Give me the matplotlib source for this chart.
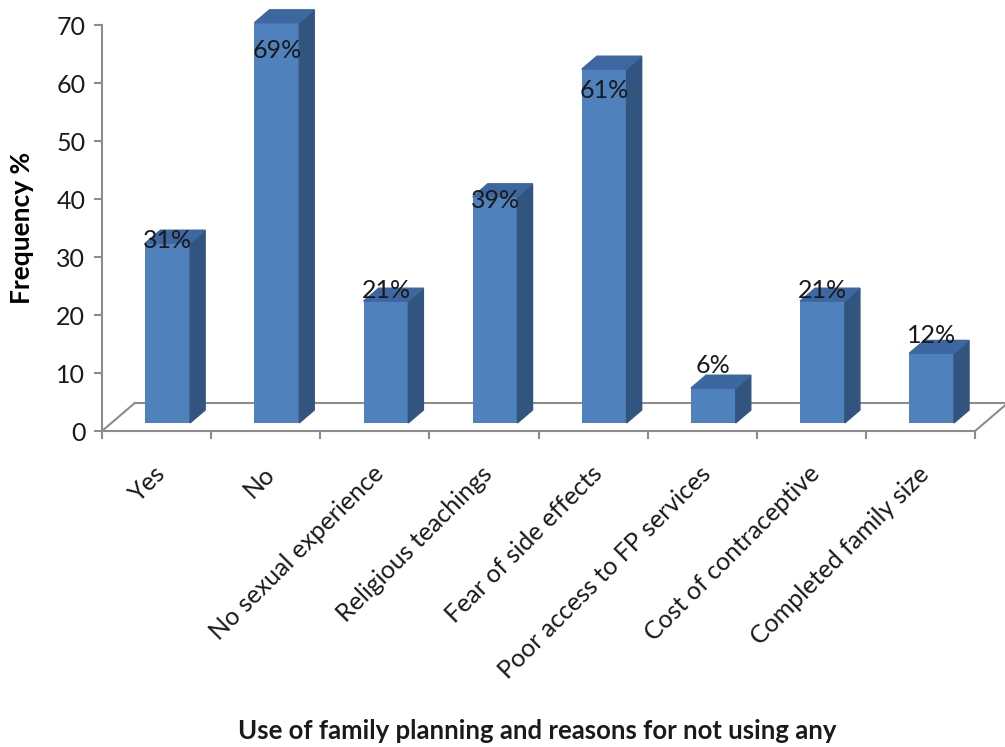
import matplotlib
matplotlib.use("Agg")
import matplotlib.pyplot as plt
from matplotlib.patches import Polygon
from matplotlib.transforms import ScaledTranslation
import numpy as np

plt.rcParams['font.family'] = ['Lato', 'DejaVu Sans']

categories = ["Yes", "No", "No sexual experience", "Religious teachings",
              "Fear of side effects", "Poor access to FP services",
              "Cost of contraceptive", "Completed family size"]
values = [31, 69, 21, 39, 61, 6, 21, 12]
value_labels = ["31%", "69%", "21%", "39%", "61%", "6%", "21%", "12%"]

# 3d look: floor depth in data units and where the bars sit inside it
DX, DY = 0.30, 4.83
F0, F1 = 0.29, 0.75
BAR_X0, BAR_W = 0.31, 0.41

FRONT = '#4F81BD'
TOP = '#3C67A0'
SIDE = '#32557F'
GRID = '#8C8C8C'
TXT = '#1a1a1a'

fig = plt.figure(figsize=(10.05, 7.47), dpi=100)
ax = fig.add_axes([0.1015, 0.423, 0.8687, 0.5435])
n = len(categories)
ax.set_xlim(0, n)
ax.set_ylim(0, 70)

for s in ['top', 'right', 'bottom']:
    ax.spines[s].set_visible(False)
ax.spines['left'].set_color(GRID)
ax.spines['left'].set_linewidth(1.5)

# floor
ax.plot([0, n], [0, 0], color=GRID, lw=1.5, clip_on=False, zorder=1)
ax.plot([DX, n + DX], [DY, DY], color=GRID, lw=1.5, clip_on=False, zorder=1)
ax.plot([0, DX], [0, DY], color=GRID, lw=1.5, clip_on=False, zorder=1)
ax.plot([n, n + DX], [0, DY], color=GRID, lw=1.5, clip_on=False, zorder=1)

# bars
x_front = np.arange(n) + BAR_X0 + F0 * DX
y_base = F0 * DY
ddx, ddy = (F1 - F0) * DX, (F1 - F0) * DY
ax.bar(x_front, values, width=BAR_W, bottom=y_base, align='edge',
       color=FRONT, zorder=3, clip_on=False)
for x0, v in zip(x_front, values):
    x1 = x0 + BAR_W
    top = y_base + v
    ax.add_patch(Polygon([(x1, y_base), (x1 + ddx, y_base + ddy),
                          (x1 + ddx, top + ddy), (x1, top)],
                         closed=True, color=SIDE, zorder=3, clip_on=False))
    ax.add_patch(Polygon([(x0, top), (x1, top), (x1 + ddx, top + ddy),
                          (x0 + ddx, top + ddy)],
                         closed=True, color=TOP, zorder=3, clip_on=False))

# data labels
for x0, v, lab in zip(x_front, values, value_labels):
    ax.text(x0 + BAR_W / 2, 6.2 + 0.862 * v, lab, ha='center', va='center',
            fontsize=18, color=TXT, zorder=5)

# ticks
ax.set_yticks(np.arange(0, 71, 10))
ax.tick_params(axis='y', direction='out', length=6, width=1.5, color=GRID,
               labelsize=18, labelcolor=TXT, pad=6)
ax.set_xticks(np.arange(n + 1))
ax.set_xticklabels([])
ax.tick_params(axis='x', direction='out', length=6, width=1.5, color=GRID)

# category labels, rotated
off = ScaledTranslation(5 / 100, -39 / 100, fig.dpi_scale_trans)
for i, c in enumerate(categories):
    ax.text(i + 0.5, 0, c, rotation=45, rotation_mode='anchor',
            ha='right', va='center', fontsize=18, color=TXT,
            transform=ax.get_xaxis_transform() + off)

ax.set_ylabel("Frequency %", fontsize=19, fontweight='bold')
ax.yaxis.set_label_coords(-0.078, 0.5)
fig.text(0.535, 0.022, "Use of family planning and reasons for not using any",
         ha='center', va='center', fontsize=18.5, fontweight='bold', color=TXT)

fig.savefig("out.png", dpi=100)
